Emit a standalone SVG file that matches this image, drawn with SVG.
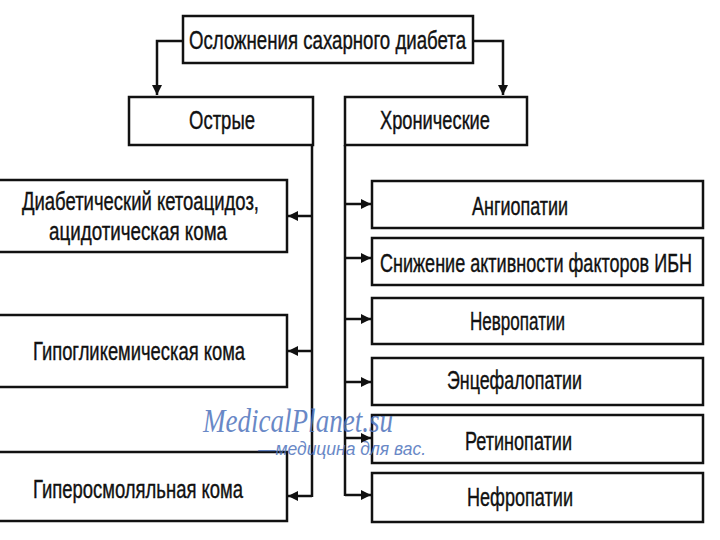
<svg xmlns="http://www.w3.org/2000/svg" width="720" height="540" viewBox="0 0 720 540">
<defs>
<style>
.box{fill:#fff;stroke:#111;stroke-width:2.5}
.t{font-family:"Liberation Sans",Arial,sans-serif;font-size:25px;fill:#111;stroke:#111;stroke-width:0.4}
.c{fill:none;stroke:#111;stroke-width:2.5}
.wm1{font-family:"Liberation Serif","Times New Roman",serif;font-style:italic;font-size:34px;fill:#4f74bd;opacity:0.85}
.wm2{font-family:"Liberation Sans",Arial,sans-serif;font-style:italic;font-size:19px;fill:#4f74bd;opacity:0.85}
</style>
<marker id="ah" viewBox="0 0 10 10" refX="10" refY="5" markerWidth="10" markerHeight="12" markerUnits="userSpaceOnUse" orient="auto">
<path d="M0,0 L10,5 L0,10 z" fill="#111"/>
</marker>
</defs>
<rect width="720" height="540" fill="#fff"/>
<g id="connectors">
<path class="c" d="M183,41 H157 V95" marker-end="url(#ah)"/>
<path class="c" d="M473,41 H503 V95" marker-end="url(#ah)"/>
<path class="c" d="M312,145 V497"/>
<path class="c" d="M312,216 H288" marker-end="url(#ah)"/>
<path class="c" d="M312,351 H288" marker-end="url(#ah)"/>
<path class="c" d="M312,496 H288" marker-end="url(#ah)"/>
<path class="c" d="M345,145 V496"/>
<path class="c" d="M345,204 H371" marker-end="url(#ah)"/>
<path class="c" d="M345,258 H371" marker-end="url(#ah)"/>
<path class="c" d="M345,319 H371" marker-end="url(#ah)"/>
<path class="c" d="M345,382 H371" marker-end="url(#ah)"/>
<path class="c" d="M345,438 H371" marker-end="url(#ah)"/>
<path class="c" d="M345,495 H371" marker-end="url(#ah)"/>
</g>
<g id="root"><rect class="box" x="183" y="16" width="290" height="47"/><text class="t" x="189" y="49" textLength="277" lengthAdjust="spacingAndGlyphs">Осложнения сахарного диабета</text></g>
<g id="acute"><rect class="box" x="129" y="97" width="184" height="48"/><text class="t" x="189" y="129" textLength="66" lengthAdjust="spacingAndGlyphs">Острые</text></g>
<g id="chronic"><rect class="box" x="345" y="97" width="182" height="48"/><text class="t" x="380" y="129" textLength="110" lengthAdjust="spacingAndGlyphs">Хронические</text></g>
<g id="ketoacidosis"><rect class="box" x="-2" y="180" width="289" height="72"/><text class="t" x="22" y="210" textLength="237" lengthAdjust="spacingAndGlyphs">Диабетический кетоацидоз,</text><text class="t" x="49" y="240" textLength="178" lengthAdjust="spacingAndGlyphs">ацидотическая кома</text></g>
<g id="hypoglycemic"><rect class="box" x="-2" y="315" width="289" height="72"/><text class="t" x="33" y="360" textLength="212" lengthAdjust="spacingAndGlyphs">Гипогликемическая кома</text></g>
<g id="hyperosmolar"><rect class="box" x="-2" y="452" width="289" height="69"/><text class="t" x="33" y="498" textLength="210" lengthAdjust="spacingAndGlyphs">Гиперосмоляльная кома</text></g>
<g id="angio"><rect class="box" x="372" y="181" width="331" height="47"/><text class="t" x="472" y="215" textLength="96" lengthAdjust="spacingAndGlyphs">Ангиопатии</text></g>
<g id="ibn"><rect class="box" x="372" y="238" width="331" height="47"/><text class="t" transform="translate(380,272) scale(0.75,1)" x="0" y="0" textLength="416" lengthAdjust="spacingAndGlyphs">Снижение активности факторов ИБН</text></g>
<g id="neuro"><rect class="box" x="372" y="298" width="331" height="46"/><text class="t" x="470" y="330" textLength="95" lengthAdjust="spacingAndGlyphs">Невропатии</text></g>
<g id="encephalo"><rect class="box" x="372" y="358" width="331" height="47"/><text class="t" x="447" y="389" textLength="135" lengthAdjust="spacingAndGlyphs">Энцефалопатии</text></g>
<g id="retino"><rect class="box" x="372" y="415" width="331" height="48"/><text class="t" x="465" y="450" textLength="107" lengthAdjust="spacingAndGlyphs">Ретинопатии</text></g>
<g id="nephro"><rect class="box" x="372" y="473" width="331" height="49"/><text class="t" x="467" y="506" textLength="106" lengthAdjust="spacingAndGlyphs">Нефропатии</text></g>
<g id="watermark">
<text class="wm1" x="203" y="432" textLength="190" lengthAdjust="spacingAndGlyphs">MedicalPlanet.su</text>
<text class="wm2" x="258" y="455" textLength="168" lengthAdjust="spacingAndGlyphs">—медицина для вас.</text>
</g>
</svg>
